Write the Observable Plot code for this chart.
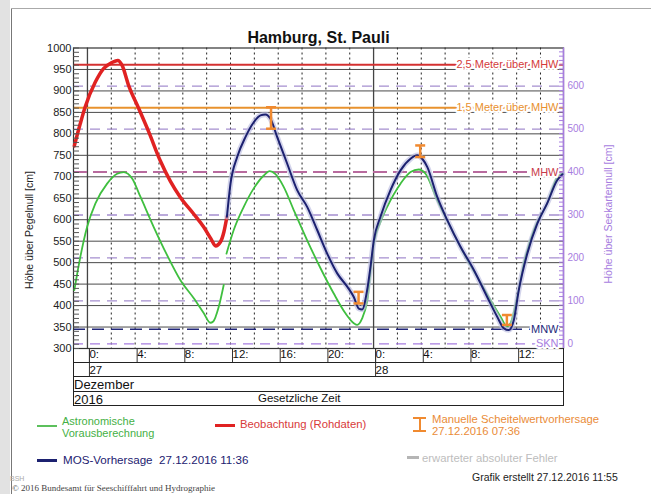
<!DOCTYPE html>
<html><head><meta charset="utf-8">
<script src="https://cdn.jsdelivr.net/npm/d3@7"></script>
<script src="https://cdn.jsdelivr.net/npm/@observablehq/plot@0.6"></script>
<style>
html,body{margin:0;padding:0;background:#fff;}
#wrap{position:relative;width:651px;height:494px;overflow:hidden;background:#fff;font-family:"Liberation Sans",Arial,sans-serif;}
.t{position:absolute;white-space:pre;line-height:1;transform:translateY(-50%);}
.b{position:absolute;}
</style></head><body><div id="wrap"></div>
<script>
// ---- data (hours since 27.12.2016 00:00, water level in cm above gauge zero) ----
const obsHour = [-1.1,-0.6,-0.2,0.65,1.35,2.05,2.55,2.9,3.45,4.3,5.15,6.1,6.95,7.8,8.9,9.75,10.35,10.75,11.15,11.45,11.7];
const obsCm   = [772,824,862,920,952,966,971,960,913,859,804,738,690,652,614,583,556,539,548,572,607];

const astroAHour = [-1.1,-0.6,-0.03,0.67,1.65,2.49,3.05,3.75,4.45,5.56,6.69,7.8,8.92,9.76,10.3,10.55,11.01,11.43];
const astroACm   = [436,513,583,638,684,707,711,696,653,583,517,459,417,382,360,363,397,448];

const astroBHour = [11.66,12.27,13.11,13.95,14.79,15.29,15.77,16.47,17.31,18.43,19.55,20.66,21.64,22.34,22.63,23.04,23.46,24.02,24.58,25.14,26.26,27.1,27.79,28.36,29.34,30.45,31.57,32.69,33.81,34.65,35.21,35.49,36.05,36.6,37.44,38.56,39.4,39.85];
const astroBCm   = [521,576,630,673,703,713,706,676,622,552,487,428,382,359,355,370,410,545,595,630,684,711,717,707,645,583,521,467,413,374,351,359,420,498,576,638,699,708];

const mosHour = [11.7,12.0,12.56,13.26,13.95,14.51,14.93,15.35,15.91,16.75,17.59,18.43,19.27,20.11,20.95,21.79,22.34,22.76,23.04,23.46,23.74,24.02,24.58,25.42,26.26,27.1,27.66,28.08,28.5,29.34,30.18,31.29,32.41,33.53,34.37,34.93,35.34,35.76,36.18,36.89,37.73,38.56,39.4,39.85];
const mosCm   = [607,684,746,793,827,843,845,835,793,731,669,630,576,521,475,444,420,393,391,436,490,552,607,669,715,742,750,742,723,653,599,537,483,420,374,347,343,366,436,521,591,638,692,706];

const crestHour = [15.4,22.74,27.91,35.18];
const crestLoCm = [812,405,746,355];
const crestHiCm = [862,432,773,378];

const refLabel = ["2,5 Meter über MHW","1,5 Meter über MHW","MHW","MNW","SKN"];
const refCm    = [961,861,711,345,311];
const refColor = ["#d43a3a","#e8902e","#c83a4a","#23287a","#a77de0"];
const sknCm = 311;                       // chart datum (Seekartennull) on gauge scale

const yLabelTicks = [300,350,400,450,500,550,600,650,700,750,800,850,900,950,1000];
const yGridCm     = [350,400,450,500,550,600,650,700,750,800,850,900,950];
const yMinorTicks = d3.range(300,1001,10);
const rightTicks  = [0,100,200,300,400,500,600];
const rightDashed = [100,200,300,500,600];
const rightMinor  = d3.range(0,690,10);
const timeTicks   = [0,4,8,12,16,20,24,28,32,36];
const dotHours    = [2,4,6,8,10,12,14,16,18,20,22,26,28,30,32,34,36,38];
const dayHours    = [0,24];
const dayLabels   = ["27","28"];
const xDomain = [-1.17,39.93];

const obs = obsHour.map((h,i)=>({h, v:obsCm[i]}));
const astroA = astroAHour.map((h,i)=>({h, v:astroACm[i]}));
const astroB = astroBHour.map((h,i)=>({h, v:astroBCm[i]}));
const mos = mosHour.map((h,i)=>({h, v:mosCm[i]}));
const crest = crestHour.map((h,i)=>({h, lo:crestLoCm[i], hi:crestHiCm[i]}));
const refs = refLabel.map((l,i)=>({l, v:refCm[i], c:refColor[i]}));

const purple = "#a77de0";
const orange = "#f08a30";
const capSymbol = {draw(ctx, size){ const r = Math.sqrt(size/Math.PI); ctx.moveTo(-r,0); ctx.lineTo(r,0); }};

const chart = Plot.plot({
  width: 651, height: 494,
  marginLeft: 73, marginRight: 88, marginTop: 47.5, marginBottom: 146,
  x: {domain: xDomain, axis: null},
  y: {domain: [300,1000], axis: null},
  color: {type: "identity"},
  style: {fontFamily: "Liberation Sans, Arial, sans-serif", fontSize: "11px", background: "transparent", color: "#222", overflow: "visible"},
  marks: [
    Plot.ruleY(yGridCm, {stroke: "#4a4a4a", strokeWidth: 1}),
    Plot.ruleX(dotHours, {stroke: "#222", strokeDasharray: "2,3", strokeWidth: 1}),
    Plot.ruleX(dayHours, {stroke: "#444", strokeWidth: 1.3}),
    Plot.ruleY(rightDashed, {y: d => d + sknCm, stroke: "#a58fd0", strokeDasharray: "10,7", strokeWidth: 1.3}),
    Plot.ruleY([refs[4]], {y: "v", stroke: purple, strokeDasharray: "10,7", strokeWidth: 1.3}),
    Plot.ruleY([refs[3]], {y: "v", stroke: "#23287a", strokeDasharray: "12,7", strokeWidth: 1.6}),
    Plot.ruleY([refs[2]], {y: "v", stroke: "#b86a9e", strokeDasharray: "14,6", strokeWidth: 2}),
    Plot.ruleY([refs[1]], {y: "v", stroke: "#e8922e", strokeWidth: 2}),
    Plot.ruleY([refs[0]], {y: "v", stroke: "#d43030", strokeWidth: 2}),
    Plot.frame({stroke: "#333", strokeWidth: 1.2}),
    Plot.ruleX([xDomain[1]], {stroke: purple, strokeWidth: 1.5}),
    // curves
    Plot.line(astroA, {x: "h", y: "v", stroke: "#3fbf3f", strokeWidth: 1.8, curve: "monotone-x"}),
    Plot.line(astroB, {x: "h", y: "v", stroke: "#3fbf3f", strokeWidth: 1.8, curve: "monotone-x"}),
    Plot.line(obs, {x: "h", y: "v", stroke: "#e02222", strokeWidth: 3.5, curve: "monotone-x"}),
    Plot.line(mos, {x: "h", y: "v", stroke: "#bcbde0", strokeWidth: 5.5, strokeOpacity: 0.65, curve: "monotone-x"}),
    Plot.line(mos, {x: "h", y: "v", stroke: "#1c2170", strokeWidth: 2, curve: "monotone-x"}),
    // manual crest forecasts
    Plot.ruleX(crest, {x: "h", y1: "lo", y2: "hi", stroke: orange, strokeWidth: 2.5}),
    Plot.dot(crest, {x: "h", y: "lo", symbol: capSymbol, r: 5, fill: "none", stroke: orange, strokeWidth: 2.5}),
    Plot.dot(crest, {x: "h", y: "hi", symbol: capSymbol, r: 5, fill: "none", stroke: orange, strokeWidth: 2.5}),
    // reference labels
    Plot.text(refs, {y: "v", text: "l", frameAnchor: "right", textAnchor: "end", dx: -5, fill: "c", stroke: "white", strokeWidth: 4, fontSize: 11}),
    // axes
    Plot.axisY({ticks: yLabelTicks, tickSize: 0, tickPadding: 2, tickFormat: d => String(d), fontSize: 11, fill: "#222", label: null}),
    Plot.axisY({ticks: yMinorTicks, tickSize: 6, dx: 6, tickFormat: () => "", stroke: "#555", label: null}),
    Plot.axisY({anchor: "right", ticks: rightMinor.map(d => d + sknCm), tickSize: 5, dx: -5, tickFormat: () => "", stroke: purple, label: null}),
    Plot.axisY({anchor: "right", ticks: rightTicks.map(d => d + sknCm), tickSize: 0, tickPadding: 4, tickFormat: d => String(d - sknCm), fill: purple, fontSize: 10, label: null}),
    Plot.axisX({ticks: timeTicks, tickSize: 14, tickPadding: -13, tickFormat: d => `${d % 24}:`, textAnchor: "start", dx: 2, fontSize: 11.5, stroke: "#333", fill: "#111", label: null}),
    Plot.axisX({ticks: dayHours, tickSize: 28, tickPadding: -11, tickFormat: d => dayLabels[dayHours.indexOf(d)], textAnchor: "start", dx: 2, fontSize: 11.5, stroke: "#333", fill: "#111", label: null})
  ]
});
chart.style.position = "absolute";
chart.style.left = "0px";
chart.style.top = "0px";

const wrap = document.getElementById("wrap");
function box(x, y, w, h, bg) {
  const d = document.createElement("div");
  d.className = "b";
  Object.assign(d.style, {left: x+"px", top: y+"px", width: w+"px", height: h+"px", background: bg});
  wrap.appendChild(d); return d;
}
function txt(s, x, y, size, color, extra) {
  const d = document.createElement("div");
  d.className = "t";
  d.textContent = s;
  Object.assign(d.style, {left: x+"px", top: y+"px", fontSize: size+"px", color: color}, extra || {});
  wrap.appendChild(d); return d;
}
// page frame
box(0, 0, 10, 494, "#e2e2e2");
box(10.5, 8, 1, 486, "#777");
box(11, 8, 640, 1, "#aaa");
wrap.appendChild(chart);

// title
txt("Hamburg, St. Pauli", 0, 38, 16, "#111", {width: "637px", textAlign: "center", fontWeight: "bold"});
// axis titles
txt("Höhe über Pegelnull [cm]", 29, 230, 10.5, "#222", {transform: "translate(-50%,-50%) rotate(-90deg)"});
txt("Höhe über Seekartennull [cm]", 608, 214, 10.5, purple, {transform: "translate(-50%,-50%) rotate(-90deg)"});

// time table rows
box(72.5, 347.5, 1.2, 58, "#222");
box(562.5, 347.5, 1.2, 58, "#222");
box(73, 361.5, 490, 1.2, "#222");
box(73, 376, 490, 1.2, "#222");
box(73, 390.5, 490, 1.2, "#222");
box(73, 404.5, 490, 1.2, "#222");
txt("Dezember", 74, 384, 13, "#111");
txt("2016", 74, 398.5, 13, "#111");
txt("Gesetzliche Zeit", 258, 398.5, 11.5, "#111");

// legend
box(37, 424.5, 20, 2, "#5cc05c");
txt("Astronomische", 62, 420.5, 11, "#45b045");
txt("Vorausberechnung", 62, 432.5, 11, "#45b045");
box(215, 423.5, 20, 3.5, "#e02222");
txt("Beobachtung (Rohdaten)", 240, 425, 11.3, "#d83a3a");
box(418.5, 417, 2.5, 14, orange);
box(413, 416.5, 13, 2.5, orange);
box(413, 429.5, 13, 2.5, orange);
txt("Manuelle Scheitelwertvorhersage", 432, 420, 11.3, "#ea8c38");
txt("27.12.2016 07:36", 432, 431.5, 11.3, "#ea8c38");
box(37, 458.5, 20, 3, "#1c2170");
txt("MOS-Vorhersage  27.12.2016 11:36", 63, 459.5, 11.6, "#1c2170");
box(407, 456, 12, 3, "#b5b5b5");
txt("erwarteter absoluter Fehler", 422, 458.5, 11.3, "#bdbdbd");
txt("Grafik erstellt 27.12.2016 11:55", 472, 476.5, 10.5, "#222");
txt("BSH", 10, 478, 7, "#aaa");
txt("© 2016 Bundesamt für Seeschifffahrt und Hydrographie", 12, 488, 9, "#444", {fontFamily: "'Liberation Serif', serif"});
</script></body></html>
